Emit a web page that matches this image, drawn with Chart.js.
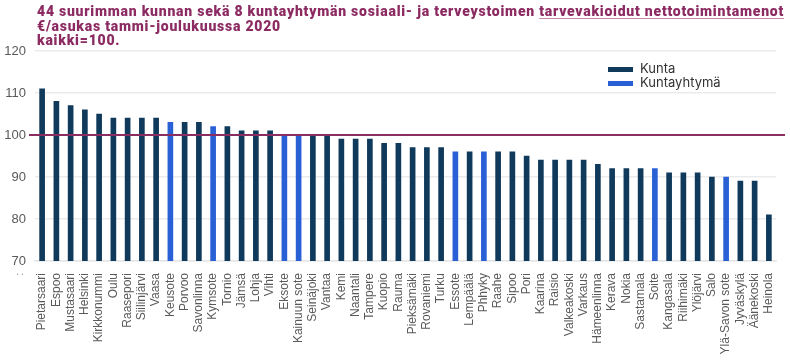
<!DOCTYPE html>
<html>
<head>
<meta charset="utf-8">
<script src="https://cdn.jsdelivr.net/npm/chart.js@4"></script>
<style>
  html, body { margin: 0; padding: 0; background: #fff; }
  #wrap { position: relative; width: 790px; height: 363px; }
  #title {
    position: absolute; left: 37px; top: 4px;
    font-family: Roboto, sans-serif; font-weight: 900; font-size: 14px;
    line-height: 14.5px; color: #8c2b62; white-space: nowrap;
  }
  #title u { text-decoration-color: #c58aa9; text-underline-offset: 2px; }
</style>
</head>
<body>
<div id="wrap">
  <canvas id="chart" width="790" height="363"></canvas>
  <div id="title"><span id="t1">44 suurimman kunnan sekä 8 kuntayhtymän sosiaali- ja terveystoimen <u>tarvevakioidut nettotoimintamenot</u></span><br>€/asukas tammi-joulukuussa 2020<br>kaikki=100.</div>
</div>
<script>
const categories = ['Pietarsaari', 'Espoo', 'Mustasaari', 'Helsinki', 'Kirkkonummi', 'Oulu', 'Raasepori',
  'Siilinjärvi', 'Vaasa', 'Keusote', 'Porvoo', 'Savonlinna', 'Kymsote', 'Tornio', 'Jämsä', 'Lohja', 'Vihti',
  'Eksote', 'Kainuun sote', 'Seinäjoki', 'Vantaa', 'Kemi', 'Naantali', 'Tampere', 'Kuopio', 'Rauma',
  'Pieksämäki', 'Rovaniemi', 'Turku', 'Essote', 'Lempäälä', 'Phhyky', 'Raahe', 'Sipoo', 'Pori', 'Kaarina',
  'Raisio', 'Valkeakoski', 'Varkaus', 'Hämeenlinna', 'Kerava', 'Nokia', 'Sastamala', 'Soite', 'Kangasala',
  'Riihimäki', 'Ylöjärvi', 'Salo', 'Ylä-Savon sote', 'Jyväskylä', 'Äänekoski', 'Heinola'];
const values = [111, 108, 107, 106, 105, 104, 104, 104, 104, 103, 103, 103, 102, 102, 101, 101, 101,
  100, 100, 100, 100, 99, 99, 99, 98, 98, 97, 97, 97, 96, 96, 96, 96, 96, 95, 94, 94, 94, 94, 93,
  92, 92, 92, 92, 91, 91, 91, 90, 90, 89, 89, 81];
// kuntayhtymät, the rest are kunnat
const isYhtyma = ['Keusote', 'Kymsote', 'Eksote', 'Kainuun sote', 'Essote', 'Phhyky', 'Soite', 'Ylä-Savon sote'];
const yTicks = [70, 80, 90, 100, 110, 120];
const refValue = 100;

const kunta = values.map((v, i) => isYhtyma.includes(categories[i]) ? null : v);
const yhtyma = values.map((v, i) => isYhtyma.includes(categories[i]) ? v : null);

const DARK = '#0f3a5c';
const BLUE = '#2a60d6';

// stretch the first title line to the width it has in the original
const t1 = document.getElementById('t1');
const title = document.getElementById('title');
const n = t1.textContent.length;
title.style.letterSpacing = ((747 - t1.getBoundingClientRect().width) / n) + 'px';

const extras = {
  id: 'extras',
  afterDatasetsDraw(chart) {
    const ctx = chart.ctx;
    const y = chart.scales.y.getPixelForValue(refValue);
    ctx.save();
    ctx.strokeStyle = '#8a2d61';
    ctx.lineWidth = 2;
    ctx.beginPath();
    ctx.moveTo(29, y);
    ctx.lineTo(785, y);
    ctx.stroke();

    // legend
    ctx.font = '13px Inter, sans-serif';
    ctx.textBaseline = 'middle';
    chart.data.datasets.forEach((ds, i) => {
      const ly = 69 + i * 14;
      ctx.fillStyle = ds.backgroundColor;
      ctx.fillRect(608, ly - 2, 25, 5);
      ctx.fillStyle = '#333';
      ctx.fillText(ds.label, 640, ly);
    });

    // stray axis mark
    ctx.fillStyle = '#555';
    ctx.font = '10px "Liberation Sans", sans-serif';
    ctx.translate(20, 274);
    ctx.rotate(-Math.PI / 2);
    ctx.textAlign = 'center';
    ctx.fillText(':', 0, 0);
    ctx.restore();
  }
};

new Chart(document.getElementById('chart'), {
  type: 'bar',
  data: {
    labels: categories,
    datasets: [
      { label: 'Kunta', data: kunta, backgroundColor: DARK, barThickness: 5, grouped: false },
      { label: 'Kuntayhtymä', data: yhtyma, backgroundColor: BLUE, barThickness: 5, grouped: false }
    ]
  },
  options: {
    responsive: false,
    animation: false,
    layout: { padding: { top: 51, right: 14, left: 0, bottom: 0 } },
    plugins: { legend: { display: false }, tooltip: { enabled: false }, title: { display: false } },
    scales: {
      x: {
        grid: { display: false },
        border: { color: '#e6e6e6', width: 1.5 },
        ticks: {
          autoSkip: false, maxRotation: 90, minRotation: 90, padding: 4,
          color: '#595959', font: { family: '"Liberation Sans", Arial, sans-serif', size: 12 }
        },
        afterFit(scale) { scale.height = 102; }
      },
      y: {
        min: 70, max: 120,
        afterBuildTicks(scale) { scale.ticks = yTicks.map(v => ({ value: v })); },
        grid: { color: '#ebebeb', lineWidth: 1.5, drawTicks: false },
        border: { display: false },
        ticks: {
          padding: 9, color: '#595959',
          font: { family: '"Liberation Sans", Arial, sans-serif', size: 13 }
        },
        afterFit(scale) { scale.width = 35; }
      }
    }
  },
  plugins: [extras]
});
</script>
</body>
</html>
